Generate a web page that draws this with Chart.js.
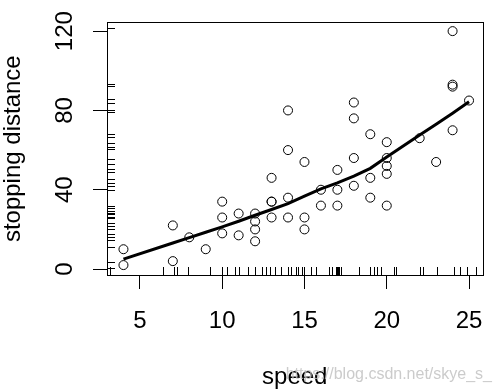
<!DOCTYPE html>
<html lang="en">
  <head>
    <meta charset="UTF-8" />
    <title>cars: speed vs stopping distance</title>
    <style>
      body { margin: 0; background: #fff; }
      canvas { display: block; }
    </style>
  </head>
  <body>
    <canvas id="chart-1" width="501" height="392"></canvas>

    <script src="https://cdn.jsdelivr.net/npm/chart.js"></script>
    <script>
      // cars data (speed, stopping distance)
      const speed = [4, 4, 7, 7, 8, 9, 10, 10, 10, 11, 11, 12, 12, 12, 12, 13, 13, 13, 13, 14, 14, 14, 14, 15, 15, 15, 16, 16, 17, 17, 17, 18, 18, 18, 18, 19, 19, 19, 20, 20, 20, 20, 20, 22, 23, 24, 24, 24, 24, 25];
      const dist = [2, 10, 4, 22, 16, 10, 18, 26, 34, 17, 28, 14, 20, 24, 28, 26, 34, 34, 46, 26, 36, 60, 80, 20, 26, 54, 32, 40, 32, 40, 50, 42, 56, 76, 84, 36, 46, 68, 32, 48, 52, 56, 64, 66, 54, 70, 92, 93, 120, 85];

      // smoothed curve
      const smoothX = [4, 7, 8, 9, 10, 11, 12, 13, 14, 15, 16, 17, 18, 19, 20, 22, 23, 24, 25];
      const smoothY = [4.97, 13.12, 15.86, 18.58, 21.28, 24.13, 27.12, 30.03, 32.96, 36.76, 40.44, 43.46, 46.89, 50.79, 56.49, 67.59, 73.08, 78.64, 84.33];

      // rug marks along the axes
      const rugX = [3.2, 6.41, 7.06, 7.26, 7.92, 9.23, 10.0, 10.3, 10.8, 11.0, 11.55, 12.0, 12.4, 12.65, 12.9, 13.2, 13.6, 14.0, 14.2, 14.47, 14.63, 14.84, 15.0, 15.4, 15.72, 16.49, 16.65, 16.9, 16.97, 17.05, 17.12, 17.2, 18.3, 19.0, 19.2, 19.4, 19.67, 20.45, 20.55, 22.0, 22.2, 23.08, 24.1, 24.45, 24.9, 25.45];
      const rugY = [121.5, 93.5, 92.5, 85.7, 83.5, 80.2, 79, 68, 66.4, 63.8, 61.8, 60.5, 55.5, 53, 50.4, 48.7, 45.4, 43.4, 41.7, 40, 32, 30.6, 29.4, 28.5, 27.7, 26.5, 25.5, 23.2, 21.9, 20.2, 17.7, 16, 14.8, 11, 3.4, 0.4];

      const xTicks = [5, 10, 15, 20, 25];
      const yTicks = [0, 20, 40, 60, 80, 100, 120];
      const yLabels = [0, 40, 80, 120];

      const font = { family: "'Liberation Sans', Arial, sans-serif", size: 24 };

      // box, rugs and watermark
      const extras = {
        id: "extras",
        afterDatasetsDraw(chart) {
          const { ctx, chartArea: a, scales } = chart;
          ctx.save();
          ctx.strokeStyle = "#000";
          ctx.lineWidth = 1;
          ctx.strokeRect(Math.round(a.left) + 0.5, Math.round(a.top) + 0.5, Math.round(a.right - a.left), Math.round(a.bottom - a.top));

          ctx.beginPath();
          rugX.forEach((v) => {
            const px = Math.round(scales.x.getPixelForValue(v)) + 0.5;
            ctx.moveTo(px, a.bottom);
            ctx.lineTo(px, a.bottom - 8);
          });
          rugY.forEach((v) => {
            const py = Math.round(scales.y.getPixelForValue(v)) + 0.5;
            ctx.moveTo(a.left, py);
            ctx.lineTo(a.left + 8, py);
          });
          ctx.stroke();
          ctx.restore();
        },
        afterDraw(chart) {
          const ctx = chart.ctx;
          ctx.save();
          ctx.font = "16px 'Liberation Sans', Arial, sans-serif";
          ctx.fillStyle = "rgba(190, 190, 190, 0.8)";
          ctx.textAlign = "right";
          ctx.textBaseline = "alphabetic";
          ctx.fillText("https://blog.csdn.net/skye_s_", 492, 379);
          ctx.restore();
        },
      };

      const ctx = document.getElementById("chart-1");
      const chart = new Chart(ctx, {
        type: "scatter",
        data: {
          datasets: [
            {
              label: "cars",
              data: speed.map((s, i) => ({ x: s, y: dist[i] })),
              pointStyle: "circle",
              pointRadius: 4.5,
              pointBorderWidth: 1,
              pointBorderColor: "#000",
              pointBackgroundColor: "rgba(0,0,0,0)",
              showLine: false,
            },
            {
              label: "smooth",
              data: smoothX.map((s, i) => ({ x: s, y: smoothY[i] })),
              showLine: true,
              borderColor: "#000",
              borderWidth: 3,
              pointRadius: 0,
              tension: 0,
            },
          ],
        },
        options: {
          responsive: false,
          animation: false,
          layout: { padding: { top: 22, right: 17, left: 0, bottom: 0 } },
          plugins: { legend: { display: false }, tooltip: { enabled: false } },
          scales: {
            x: {
              type: "linear",
              min: 3.0,
              max: 25.82,
              afterBuildTicks: (s) => { s.ticks = xTicks.map((v) => ({ value: v })); },
              afterFit: (s) => { s.height = 117; },
              grid: { drawOnChartArea: false, tickLength: 14, color: "#000", lineWidth: 1 },
              border: { color: "#000", width: 1 },
              ticks: { font: font, color: "#000", padding: 18, maxRotation: 0 },
              title: { display: true, text: "speed", font: font, color: "#000", padding: 0 },
            },
            y: {
              type: "linear",
              min: -3,
              max: 124.4,
              afterBuildTicks: (s) => { s.ticks = yTicks.map((v) => ({ value: v })); },
              afterFit: (s) => { s.width = 107; },
              grid: { drawOnChartArea: false, tickLength: 14, color: "#000", lineWidth: 1 },
              border: { color: "#000", width: 1 },
              ticks: {
                font: font,
                color: "#000",
                padding: 8,
                minRotation: 90,
                maxRotation: 90,
                crossAlign: "center",
                callback: (v) => (yLabels.includes(v) ? String(v) : ""),
              },
              title: { display: true, text: "stopping distance", font: { ...font, lineHeight: 1.1 }, color: "#000", padding: 0 },
            },
          },
        },
        plugins: [extras],
      });
    </script>
  </body>
</html>
